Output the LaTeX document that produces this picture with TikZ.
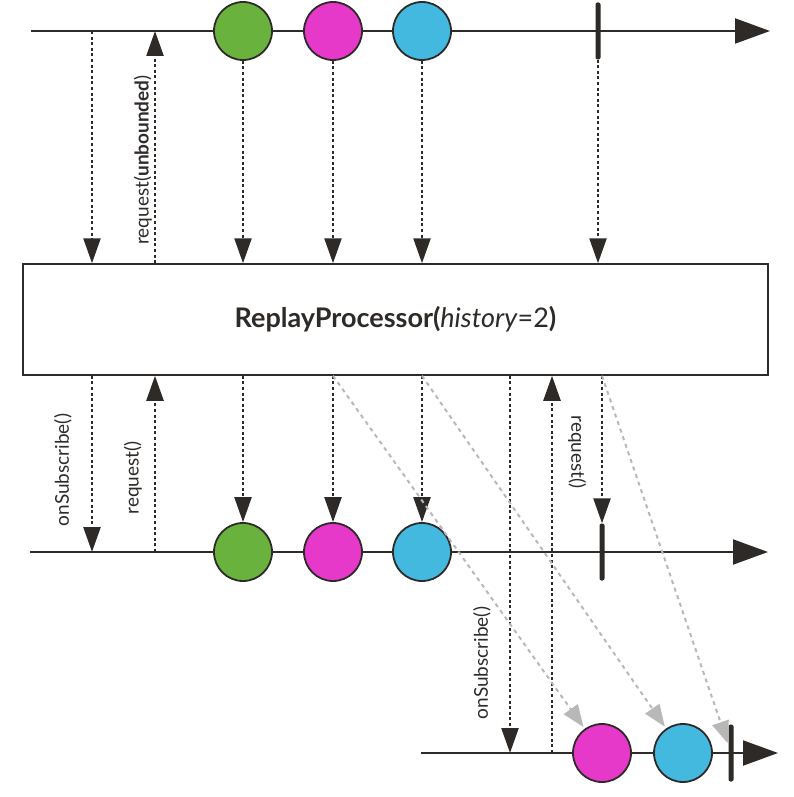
\documentclass[tikz,border=0pt]{standalone}
\usepackage{fontspec}
\setmainfont{Lato}
\usetikzlibrary{arrows.meta,calc}
\definecolor{ink}{HTML}{2D2A27}
\definecolor{cgreen}{HTML}{6AB23E}
\definecolor{cmag}{HTML}{E638C9}
\definecolor{cblue}{HTML}{43B9DF}
\definecolor{ghost}{HTML}{B8B8B8}
\begin{document}
\begin{tikzpicture}[x=1pt,y=-1pt,
  timeline/.style={draw=ink,line width=2pt,-{Triangle[length=35pt,width=25pt]}},
  marble/.style={circle,draw=ink,line width=1.8pt,minimum size=58pt,inner sep=0pt},
  endbar/.style={rectangle,fill=ink,rounded corners=2pt,minimum width=5pt,minimum height=57pt,inner sep=0pt},
  sig/.style={draw=ink,line width=2.4pt,dash pattern=on 3pt off 2.6pt,-{Triangle[length=25pt,width=17pt]}},
  replay/.style={draw=ghost,line width=2pt,dash pattern=on 4pt off 4pt,-{Triangle[length=22pt,width=17pt]},shorten >=2pt},
  lbl/.style={text=ink,font=\fontsize{19}{22}\selectfont,inner sep=0pt}
]
\useasboundingbox (0,0) rectangle (793,797);
% timelines
\coordinate (s1) at (31,31);  \coordinate (e1) at (770,31);
\coordinate (s2) at (30,552); \coordinate (e2) at (768,552);
\coordinate (s3) at (421,753); \coordinate (e3) at (778,753);
\draw[timeline] (s1) -- (e1);
\draw[timeline] (s2) -- (e2);
\draw[timeline] (s3) -- (e3);
% processor box
\node[draw=ink,line width=1.5pt,minimum width=745pt,minimum height=111pt,inner sep=0pt,
      font=\fontsize{27}{30}\selectfont,text=ink] (box) at (395.5,319.5)
      {\textbf{ReplayProcessor(}\textit{history}=2\textbf{)}};
% marbles row 1
\node[marble,fill=cgreen] (g1) at (243,31) {};
\node[marble,fill=cmag]   (m1) at (333,31) {};
\node[marble,fill=cblue]  (b1) at (422,31) {};
\node[endbar] (bar1) at (598,31) {};
% marbles row 2
\node[marble,fill=cgreen] (g2) at (243,552) {};
\node[marble,fill=cmag]   (m2) at (333,552) {};
\node[marble,fill=cblue]  (b2) at (422,552) {};
\node[endbar] (bar2) at (602,552) {};
% marbles row 3
\node[marble,fill=cmag]   (m3) at (602,753) {};
\node[marble,fill=cblue]  (b3) at (683,753) {};
\node[endbar] (bar3) at (731,753) {};
% top signals
\coordinate (os1) at (92,31);
\coordinate (rq1) at (155,31);
\draw[sig] (os1) -- (os1 |- box.north);
\draw[sig] (rq1 |- box.north) -- (rq1);
\draw[sig] (g1) -- (g1 |- box.north);
\draw[sig] (m1) -- (m1 |- box.north);
\draw[sig] (b1) -- (b1 |- box.north);
\draw[sig] (bar1) -- (bar1 |- box.north);
% middle signals
\coordinate (os2) at (92,552);
\coordinate (rq2) at (155,552);
\draw[sig] (os2 |- box.south) -- (os2);
\draw[sig] (rq2) -- (rq2 |- box.south);
\draw[sig] (g1 |- box.south) -- (g2);
\draw[sig] (m1 |- box.south) -- (m2);
\draw[sig] (b1 |- box.south) -- (b2);
\draw[sig] (bar2 |- box.south) -- (bar2);
% third subscriber signals
\coordinate (os3) at (510,753);
\coordinate (rq3) at (552,753);
\draw[sig] (os3 |- box.south) -- (os3);
\draw[sig] (rq3) -- (rq3 |- box.south);
% replayed items
\draw[replay] (m1 |- box.south) -- (m3);
\draw[replay] (b1 |- box.south) -- (b3);
\draw[replay] (bar2 |- box.south) -- (bar3);
% labels
\node[lbl,rotate=90] (l1) at (143,160) {request(\textbf{unbounded})};
\node[lbl,rotate=90] (l2) at (63,470) {onSubscribe()};
\node[lbl,rotate=90] (l3) at (133,478) {request()};
\node[lbl,rotate=90] (l4) at (482,663) {onSubscribe()};
\node[lbl,rotate=-90] (l5) at (577,452) {request()};
\end{tikzpicture}
\end{document}
